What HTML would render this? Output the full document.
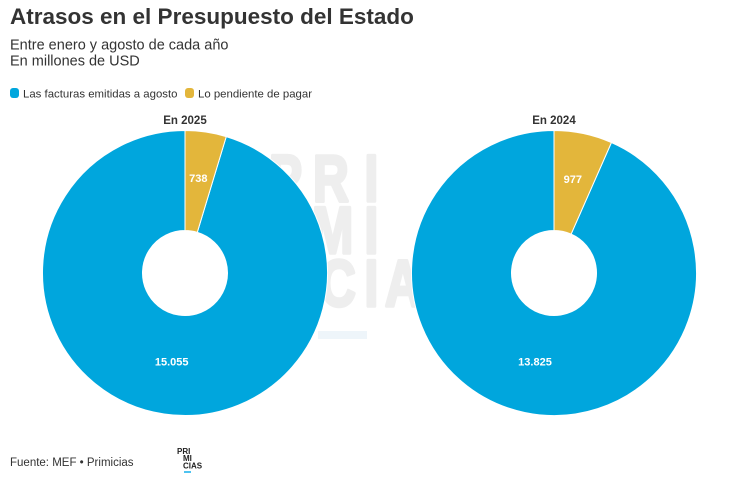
<!DOCTYPE html>
<html>
<head>
<meta charset="utf-8">
<style>
html,body{margin:0;padding:0;background:#fff;}
svg{display:block;}
text{font-family:"Liberation Sans",sans-serif;}
</style>
</head>
<body>
<svg width="737" height="495" viewBox="0 0 737 495" xmlns="http://www.w3.org/2000/svg">
<rect width="737" height="495" fill="#fff"/>
<!-- Title -->
<text x="10" y="24" font-size="22.5" font-weight="bold" fill="#333">Atrasos en el Presupuesto del Estado</text>
<text x="10" y="49.5" font-size="14.5" fill="#333">Entre enero y agosto de cada año</text>
<text x="10" y="65.5" font-size="14.5" fill="#333">En millones de USD</text>
<!-- Legend -->
<rect x="10" y="88" width="9" height="10" rx="3" fill="#00a6dd"/>
<text x="23" y="97.3" font-size="11.4" fill="#333">Las facturas emitidas a agosto</text>
<rect x="185" y="88" width="9" height="10" rx="3" fill="#e3b63b"/>
<text x="198" y="97.3" font-size="11.4" fill="#333">Lo pendiente de pagar</text>

<!-- Watermark -->
<g fill="#eeeeee" stroke="#eeeeee" stroke-width="3.5" stroke-linejoin="round" font-weight="bold" font-size="66">
<text transform="translate(269,201) scale(0.75,1)">P</text>
<text transform="translate(313,201) scale(0.75,1)">R</text>
<text transform="translate(364.5,201) scale(0.75,1)">I</text>
<text transform="translate(312,253) scale(0.75,1)">M</text>
<text transform="translate(364.5,253) scale(0.75,1)">I</text>
<text transform="translate(320,306) scale(0.75,1)">C</text>
<text transform="translate(364.5,306) scale(0.75,1)">I</text>
<text transform="translate(385,306) scale(0.75,1)">A</text>
<text transform="translate(426,306) scale(0.75,1)">S</text>
</g>
<rect x="318" y="331" width="49" height="8" fill="#eef5fa"/>

<!-- Pie 2025 -->
<text x="185" y="124" font-size="11.5" font-weight="bold" fill="#333" text-anchor="middle">En 2025</text>
<path d="M226.24,136.6 A142.5,142.5 0 1 1 185,130.5 L185,230.5 A42.5,42.5 0 1 0 197.3,232.32 Z" fill="#00a6dd" stroke="#fff" stroke-width="1"/>
<path d="M185,130.5 A142.5,142.5 0 0 1 226.24,136.6 L197.3,232.32 A42.5,42.5 0 0 0 185,230.5 Z" fill="#e3b63b" stroke="#fff" stroke-width="1"/>
<text x="198.3" y="182" font-size="11" font-weight="bold" fill="#fff" text-anchor="middle">738</text>
<text x="171.7" y="365.3" font-size="11" font-weight="bold" fill="#fff" text-anchor="middle">15.055</text>

<!-- Pie 2024 -->
<text x="554" y="124" font-size="11.5" font-weight="bold" fill="#333" text-anchor="middle">En 2024</text>
<path d="M611.41,142.58 A142.5,142.5 0 1 1 554,130.5 L554,230.5 A42.5,42.5 0 1 0 571.12,234.1 Z" fill="#00a6dd" stroke="#fff" stroke-width="1"/>
<path d="M554,130.5 A142.5,142.5 0 0 1 611.41,142.58 L571.12,234.1 A42.5,42.5 0 0 0 554,230.5 Z" fill="#e3b63b" stroke="#fff" stroke-width="1"/>
<text x="572.8" y="183" font-size="11" font-weight="bold" fill="#fff" text-anchor="middle">977</text>
<text x="535" y="365.3" font-size="11" font-weight="bold" fill="#fff" text-anchor="middle">13.825</text>

<!-- Footer -->
<text x="10" y="466" font-size="11.5" fill="#333">Fuente: MEF • Primicias</text>
<g font-size="8" font-weight="bold" fill="#222">
<text x="177" y="454">PRI</text>
<text x="183" y="461">MI</text>
<text x="183" y="468.5">CIAS</text>
</g>
<rect x="184" y="471" width="7" height="2" fill="#4fc3f0"/>
</svg>
</body>
</html>
